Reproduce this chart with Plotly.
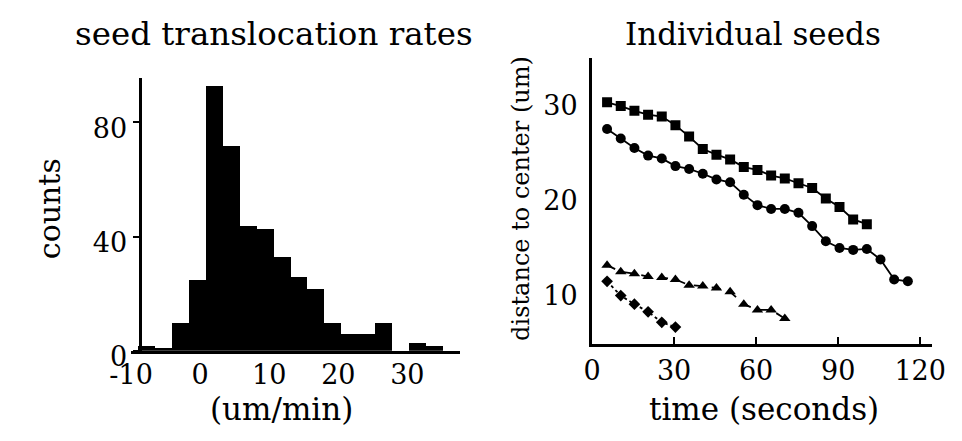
import plotly.graph_objects as go

# ---------------- data ----------------
# histogram: seed translocation rates (um/min)
rate_bin_mid = [-7.775, -5.325, -2.875, -0.425, 2.025, 4.475, 6.925, 9.375, 11.825,
                14.275, 16.725, 19.175, 21.625, 24.075, 26.525, 28.975, 31.425, 33.875]
rate_counts = [2, 1, 10, 25, 93, 72, 44, 43, 33, 26, 22, 10, 6, 6, 10, 0, 3, 2]
rate_bin_width = 2.45
rate_ticks = [-10, 0, 10, 20, 30]
count_ticks = [0, 40, 80]

# individual seeds: distance to center (um) vs time (s)
t_square = [5.5, 10.5, 15.5, 20.5, 25.5, 30.5, 35.5, 40.5, 45.5, 50.5,
            55.5, 60.5, 65.5, 70.5, 75.5, 80.5, 85.5, 90.5, 95.5, 100.5]
d_square = [30.3, 29.9, 29.4, 29.0, 28.8, 27.9, 26.7, 25.4, 24.8, 24.3,
            23.5, 23.2, 22.6, 22.3, 21.8, 21.3, 20.2, 19.3, 18.0, 17.5]
t_circle = [5.5, 10.5, 15.5, 20.5, 25.5, 30.5, 35.5, 40.5, 45.5, 50.5, 55.5, 60.5,
            65.5, 70.5, 75.5, 80.5, 85.5, 90.5, 95.5, 100.5, 105.5, 110.5, 115.5]
d_circle = [27.5, 26.5, 25.5, 24.7, 24.4, 23.6, 23.3, 22.8, 22.2, 21.9, 20.6, 19.5,
            19.1, 19.1, 18.7, 17.3, 15.7, 15.0, 14.8, 14.9, 13.8, 11.7, 11.5]
t_triangle = [5.5, 10.5, 15.5, 20.5, 25.5, 30.5, 35.5, 40.5, 45.5, 50.5, 55.5, 60.5, 65.5, 70.5]
d_triangle = [13.2, 12.5, 12.3, 12.0, 11.9, 11.7, 11.1, 11.0, 10.8, 10.4, 9.1, 8.5, 8.5, 7.6]
t_diamond = [5.5, 10.5, 15.5, 20.5, 25.5, 30.5]
d_diamond = [11.5, 10.0, 9.1, 8.3, 7.2, 6.7]
time_ticks = [0, 30, 60, 90, 120]
dist_ticks = [10, 20, 30]

# ---------------- figure ----------------
W, H = 962, 441
FONT = "DejaVu Serif"

def px_x(p):
    return p / W

def px_y(p):
    return (H - p) / H

fig = go.Figure()

fig.add_trace(go.Bar(
    x=rate_bin_mid, y=rate_counts, width=rate_bin_width,
    marker=dict(color="black", line=dict(width=0)),
    xaxis="x", yaxis="y", hoverinfo="x+y"))

series = [
    (t_square, d_square, "square", 10, "solid"),
    (t_circle, d_circle, "circle", 10, "solid"),
    (t_triangle, d_triangle, "triangle-up", 10, "dash"),
    (t_diamond, d_diamond, "diamond", 9, "dot"),
]
for tx, dy, sym, sz, dash in series:
    fig.add_trace(go.Scatter(
        x=tx, y=dy, mode="lines+markers",
        line=dict(color="black", width=1.8, dash=dash),
        marker=dict(symbol=sym, size=sz, color="black"),
        xaxis="x2", yaxis="y2"))

tickfont = dict(family=FONT, size=27, color="black")

left_px_per_unit = 17.56 / rate_bin_width
x_left0 = 105.6
fig.update_layout(
    width=W, height=H,
    margin=dict(l=0, r=0, t=0, b=0),
    paper_bgcolor="white", plot_bgcolor="white",
    showlegend=False, bargap=0,
    font=dict(family=FONT, color="black"),
    xaxis=dict(
        domain=[px_x(x_left0), px_x(447)],
        range=[-10.05, -10.05 + (447 - x_left0) / left_px_per_unit],
        tickvals=rate_ticks, ticktext=[str(v) for v in rate_ticks],
        ticks="", showline=True, linewidth=3, linecolor="black",
        ticklabelstandoff=-2,
        showgrid=False, zeroline=False, tickfont=tickfont, anchor="y",
        fixedrange=True),
    yaxis=dict(
        domain=[px_y(360), px_y(73)],
        range=[0, 95.7],
        tickvals=count_ticks, ticks="outside", ticklen=6, tickwidth=2,
        tickcolor="black", ticklabelshift=6,
        showline=True, linewidth=3, linecolor="black",
        showgrid=False, zeroline=False, tickfont=tickfont,
        anchor="free", position=px_x(114.7), fixedrange=True),
    xaxis2=dict(
        domain=[px_x(584.3), px_x(937)],
        range=[0, 124.3],
        tickvals=time_ticks, ticks="inside", ticklen=7, tickwidth=2,
        tickcolor="black",
        showline=True, linewidth=3, linecolor="black",
        showgrid=False, zeroline=False, tickfont=tickfont, anchor="y2",
        fixedrange=True),
    yaxis2=dict(
        domain=[px_y(353), px_y(53)],
        range=[4.9, 34.9],
        tickvals=dist_ticks, ticks="",
        showline=True, linewidth=3, linecolor="black",
        showgrid=False, zeroline=False, tickfont=tickfont, anchor="x2",
        ticklabelstandoff=6, fixedrange=True),
)

texts = [
    ("seed translocation rates", 254, 27, 32.5, 0),
    ("Individual seeds", 751, 27, 31, 0),
    ("(um/min)", 262, 421, 31, 0),
    ("time (seconds)", 763, 421, 31, 0),
    ("counts", 22, 211, 30, -90),
    ("distance to center (um)", 511, 200, 24, -90),
]
for txt, cx, cy, size, ang in texts:
    fig.add_annotation(
        text=txt, xref="paper", yref="paper", x=px_x(cx), y=px_y(cy),
        xanchor="center", yanchor="middle", showarrow=False, textangle=ang,
        font=dict(family=FONT, size=size, color="black"))

fig.write_html("out.html")
